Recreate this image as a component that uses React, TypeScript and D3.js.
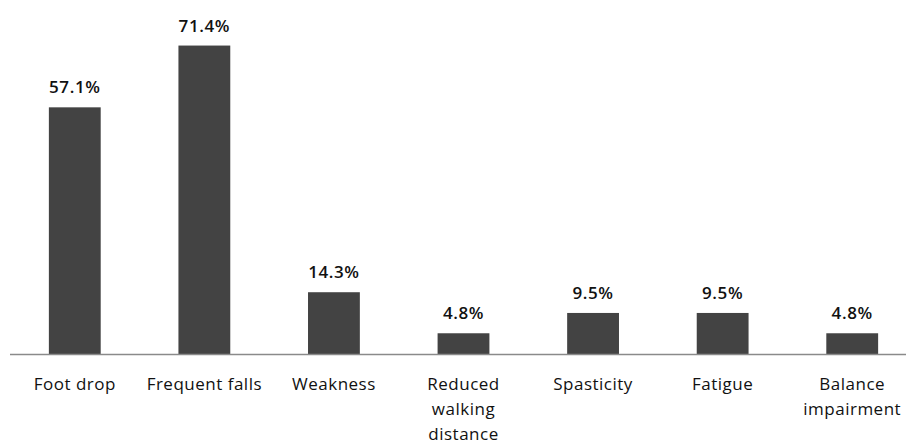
import React, { useEffect, useRef } from "react";
import * as d3 from "d3";

const categories = [
  ["Foot drop"],
  ["Frequent falls"],
  ["Weakness"],
  ["Reduced", "walking", "distance"],
  ["Spasticity"],
  ["Fatigue"],
  ["Balance", "impairment"],
];
const values = [57.1, 71.4, 14.3, 4.8, 9.5, 9.5, 4.8];

const App = () => {
  const ref = useRef<SVGSVGElement>(null);

  useEffect(() => {
    const width = 906;
    const baseline = 354;

    const svg = d3.select(ref.current);
    svg.selectAll("*").remove();

    const keys = categories.map((c, i) => String(i));
    const x = d3.scaleBand().domain(keys).range([10, 917]).paddingInner(0.6).paddingOuter(0.3);
    const y = d3.scaleLinear().domain([0, 80]).range([baseline, baseline - 345.6]);

    svg.append("g")
      .selectAll("rect")
      .data(values)
      .join("rect")
      .attr("x", (d, i) => x(String(i)))
      .attr("y", d => y(d))
      .attr("width", x.bandwidth())
      .attr("height", d => baseline - y(d))
      .attr("fill", "#434343");

    svg.append("line")
      .attr("x1", 10).attr("x2", width)
      .attr("y1", baseline + 0.5).attr("y2", baseline + 0.5)
      .attr("stroke", "#8a8a8a").attr("stroke-width", 1.5);

    svg.append("g")
      .style("font", "600 17px 'Open Sans', sans-serif")
      .style("letter-spacing", "0.6px")
      .selectAll("text")
      .data(values)
      .join("text")
      .attr("x", (d, i) => x(String(i))! + x.bandwidth() / 2)
      .attr("y", d => y(d) - 14)
      .attr("text-anchor", "middle")
      .attr("fill", "#111")
      .text(d => d.toFixed(1) + "%");

    const labels = svg.append("g")
      .style("font", "17px 'Open Sans', sans-serif")
      .style("letter-spacing", "0.5px")
      .selectAll("text")
      .data(categories)
      .join("text")
      .attr("y", 390)
      .attr("text-anchor", "middle")
      .attr("fill", "#111");

    labels.each(function (d, i) {
      const cx = x(String(i))! + x.bandwidth() / 2;
      d3.select(this).selectAll("tspan")
        .data(d)
        .join("tspan")
        .attr("x", cx)
        .attr("dy", (t, j) => (j === 0 ? 0 : 25))
        .text(t => t);
    });
  }, []);

  return <svg ref={ref} width={906} height={447} style={{ position: "absolute", left: 0, top: 0, background: "#fff" }} />;
};

export default App;
